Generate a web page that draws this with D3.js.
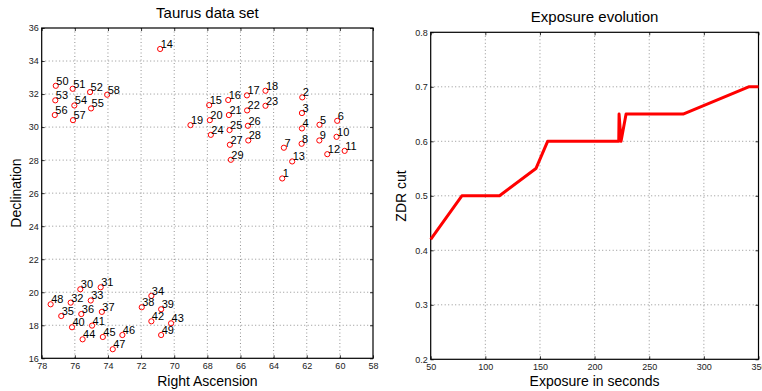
<!DOCTYPE html>
<html>
<head>
<meta charset="utf-8">
<script src="https://cdn.jsdelivr.net/npm/d3@7"></script>
<style>
  body { margin: 0; background: #fff; }
  text { font-family: "Liberation Sans", Arial, Helvetica, sans-serif; fill: #000; }
</style>
</head>
<body>
<svg id="chart" width="762" height="391"></svg>
<script>
// star positions (Taurus data set), label = index + 1
const starRA = [
  63.48, 62.27, 62.29, 62.29, 61.23, 60.16, 63.38, 62.31, 61.24, 60.2,
  59.71, 60.76, 62.88, 70.85, 67.89, 66.74, 65.61, 64.49, 69.02, 67.85,
  66.7, 65.6, 64.49, 67.79, 66.66, 65.55, 66.64, 65.53, 66.58, 75.67,
  74.44, 76.25, 75.04, 71.38, 76.82, 75.61, 74.37, 71.96, 70.79, 76.17,
  74.96, 71.38, 70.19, 75.53, 74.31, 73.13, 73.71, 77.46, 70.79, 77.15,
  76.13, 75.08, 77.18, 76.03, 75.02, 77.21, 76.11, 74.05
];
const starDec = [
  26.89, 31.8, 30.85, 29.92, 30.14, 30.38, 28.75, 28.99, 29.19, 29.41,
  28.56, 28.36, 27.92, 34.73, 31.33, 31.64, 31.92, 32.2, 30.12, 30.42,
  30.73, 31.01, 31.29, 29.53, 29.82, 30.08, 28.93, 29.19, 28.02, 20.18,
  20.3, 19.37, 19.5, 19.78, 18.56, 18.68, 18.81, 19.09, 18.97, 17.88,
  17.98, 18.24, 18.12, 17.15, 17.29, 17.41, 16.55, 19.27, 17.41, 32.5,
  32.32, 32.12, 31.62, 31.31, 31.13, 30.73, 30.42, 31.96
];
const raTicks = [78, 76, 74, 72, 70, 68, 66, 64, 62, 60, 58];
const decTicks = [16, 18, 20, 22, 24, 26, 28, 30, 32, 34, 36];

// exposure evolution
const exposure = [50, 78.5, 113, 146.3, 157, 222.1, 222.4, 224.2, 228.8, 281, 341, 350];
const zdrCut = [0.42, 0.5, 0.5, 0.55, 0.6, 0.6, 0.65, 0.6, 0.65, 0.65, 0.7, 0.7];
const expTicks = [50, 100, 150, 200, 250, 300, 350];
const zdrTicks = [0.2, 0.3, 0.4, 0.5, 0.6, 0.7, 0.8];

const svg = d3.select("#chart");

function drawFrame(g, x, y, xTicks, yTicks, xFmt, yFmt) {
  const [x0, x1] = x.range();
  const [y0, y1] = y.range();

  // dotted grid
  g.append("g").selectAll("line.gx")
    .data(xTicks.slice(1, -1))
    .join("line")
    .attr("x1", d => x(d)).attr("x2", d => x(d))
    .attr("y1", y1).attr("y2", y0)
    .attr("stroke", "#777").attr("stroke-width", 0.8)
    .attr("stroke-dasharray", "1,2.5");
  g.append("g").selectAll("line.gy")
    .data(yTicks.slice(1, -1))
    .join("line")
    .attr("y1", d => y(d)).attr("y2", d => y(d))
    .attr("x1", x0).attr("x2", x1)
    .attr("stroke", "#777").attr("stroke-width", 0.8)
    .attr("stroke-dasharray", "1,2.5");

  // axes with inward ticks
  const bottom = g.append("g").attr("transform", `translate(0,${y0})`)
    .call(d3.axisBottom(x).tickValues(xTicks).tickSizeInner(-3).tickSizeOuter(0).tickFormat(xFmt));
  const left = g.append("g").attr("transform", `translate(${x0},0)`)
    .call(d3.axisLeft(y).tickValues(yTicks).tickSizeInner(-3).tickSizeOuter(0).tickFormat(yFmt));
  g.append("g").attr("transform", `translate(0,${y1})`)
    .call(d3.axisTop(x).tickValues(xTicks).tickSizeInner(-3).tickSizeOuter(0).tickFormat(""));
  g.append("g").attr("transform", `translate(${x1},0)`)
    .call(d3.axisRight(y).tickValues(yTicks).tickSizeInner(-3).tickSizeOuter(0).tickFormat(""));

  g.selectAll(".domain").remove();
  g.selectAll(".tick line").attr("stroke", "#000").attr("stroke-width", 0.8);
  bottom.selectAll("text").attr("dy", "0.9em").attr("y", 3)
    .style("font-size", "9px").style("fill", "#222");
  left.selectAll("text").attr("x", -3)
    .style("font-size", "9px").style("fill", "#222");

  g.append("rect")
    .attr("x", x0).attr("y", y1)
    .attr("width", x1 - x0).attr("height", y0 - y1)
    .attr("fill", "none").attr("stroke", "#000").attr("stroke-width", 1.2);
}

// ---------- left: Taurus data set ----------
const xRA = d3.scaleLinear().domain([78, 58]).range([41.7, 373]);
const yDec = d3.scaleLinear().domain([16, 36]).range([358.3, 28]);
const gl = svg.append("g");
drawFrame(gl, xRA, yDec, raTicks, decTicks, d3.format("d"), d3.format("d"));

const stars = starRA.map((ra, i) => ({ id: i + 1, ra: ra, dec: starDec[i] }));

gl.selectAll("circle.star")
  .data(stars)
  .join("circle")
  .attr("class", "star")
  .attr("cx", d => xRA(d.ra))
  .attr("cy", d => yDec(d.dec))
  .attr("r", 2.6)
  .attr("fill", "none")
  .attr("stroke", "#ff0000")
  .attr("stroke-width", 1);

gl.selectAll("text.star")
  .data(stars)
  .join("text")
  .attr("class", "star")
  .attr("x", d => xRA(d.ra) + 0.5)
  .attr("y", d => yDec(d.dec) - 1)
  .style("font-size", "11px")
  .text(d => d.id);

gl.append("text")
  .attr("x", 207.4).attr("y", 18)
  .attr("text-anchor", "middle")
  .style("font-size", "15px")
  .text("Taurus data set");
gl.append("text")
  .attr("x", 207.4).attr("y", 386)
  .attr("text-anchor", "middle")
  .style("font-size", "14px")
  .text("Right Ascension");
gl.append("text")
  .attr("transform", "translate(21,193) rotate(-90)")
  .attr("text-anchor", "middle")
  .style("font-size", "14px")
  .text("Declination");

// ---------- right: Exposure evolution ----------
const xExp = d3.scaleLinear().domain([50, 350]).range([430.7, 758.5]);
const yZdr = d3.scaleLinear().domain([0.2, 0.8]).range([359.3, 32.3]);
const gr = svg.append("g");
drawFrame(gr, xExp, yZdr, expTicks, zdrTicks, d3.format("d"), d3.format(".1f"));

const line = d3.line()
  .x((d, i) => xExp(exposure[i]))
  .y(d => yZdr(d));

gr.append("path")
  .datum(zdrCut)
  .attr("d", line)
  .attr("fill", "none")
  .attr("stroke", "#ff0000")
  .attr("stroke-width", 3)
  .attr("stroke-linejoin", "round");

gr.append("text")
  .attr("x", 594.6).attr("y", 22)
  .attr("text-anchor", "middle")
  .style("font-size", "15px")
  .text("Exposure evolution");
gr.append("text")
  .attr("x", 594.6).attr("y", 386)
  .attr("text-anchor", "middle")
  .style("font-size", "14px")
  .text("Exposure in seconds");
gr.append("text")
  .attr("transform", "translate(406,196) rotate(-90)")
  .attr("text-anchor", "middle")
  .style("font-size", "14px")
  .text("ZDR cut");
</script>
</body>
</html>
